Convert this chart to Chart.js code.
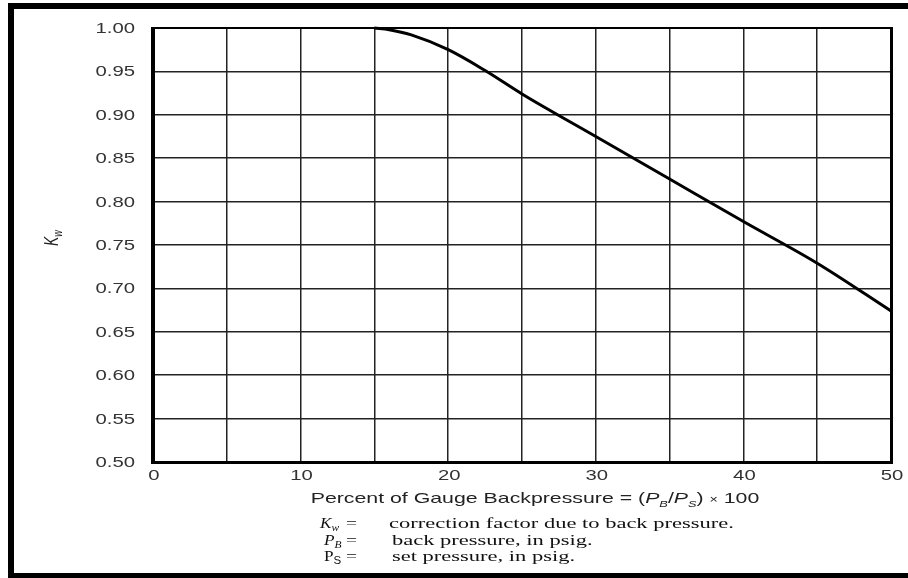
<!DOCTYPE html>
<html>
<head>
<meta charset="utf-8">
<script src="https://cdn.jsdelivr.net/npm/chart.js@4"></script>
<style>
  body { margin: 0; background: #fff; }
</style>
</head>
<body>
<canvas id="kwChart" width="908" height="578"></canvas>
<script>
// curve
const backpressure = [15, 16, 17.5, 20, 22.5, 25, 30, 35, 40, 45, 50];
const kw = [1.0, 0.998, 0.992, 0.975, 0.951, 0.924, 0.875, 0.826, 0.777, 0.729, 0.674];

const xMin = 0, xMax = 50, xStep = 5, xLabelEvery = 10;
const yMin = 0.5, yMax = 1.0, yStep = 0.05;

const sans = 'Liberation Sans, Arial, sans-serif';
const serif = 'Liberation Serif, Times New Roman, serif';
const stretch = 1.45; // the scan is wide, text is stretched sideways

function richWidth(ctx, parts) {
  let w = 0;
  parts.forEach(p => { ctx.font = p[1]; w += ctx.measureText(p[0]).width; });
  return w;
}
function drawRich(ctx, x, y, parts) {
  let cx = x;
  parts.forEach(p => {
    ctx.font = p[1];
    ctx.fillText(p[0], cx, y + (p[2] || 0));
    cx += ctx.measureText(p[0]).width;
  });
}
// draw text stretched in x, x0 = left edge on screen
function wideText(ctx, x0, y, parts, sx) {
  ctx.save();
  ctx.translate(x0, y);
  ctx.scale(sx, 1);
  drawRich(ctx, 0, 0, parts);
  ctx.restore();
}

const extras = {
  id: 'extras',
  afterDatasetsDraw(chart) {
    const ctx = chart.ctx;
    const a = chart.chartArea;
    ctx.save();
    ctx.fillStyle = '#000';
    // plot frame
    ctx.fillRect(a.left - 2, a.top - 1, 4, a.bottom - a.top + 2);
    ctx.fillRect(a.left - 2, a.top - 1, a.right - a.left + 3, 2);
    ctx.fillRect(a.right - 1, a.top - 1, 3, a.bottom - a.top + 2);
    ctx.fillRect(a.left - 2, a.bottom - 1, a.right - a.left + 4, 3);
    ctx.restore();
  },
  afterDraw(chart) {
    const ctx = chart.ctx;
    const xs = chart.scales.x, ys = chart.scales.y;
    ctx.save();
    // outer frame
    ctx.fillStyle = '#000';
    ctx.fillRect(8, 3, 900, 6);
    ctx.fillRect(8, 3, 6, 575);
    ctx.fillRect(8, 573, 900, 5);

    ctx.textBaseline = 'alphabetic';
    ctx.fillStyle = '#333';
    const tickFont = '14px ' + sans;

    // tick labels from the scales
    ys.ticks.forEach(t => {
      const s = Number(t.value).toFixed(2);
      ctx.font = tickFont;
      const w = ctx.measureText(s).width * stretch;
      wideText(ctx, 135 - w, ys.getPixelForValue(t.value) + 5, [[s, tickFont]], stretch);
    });
    xs.ticks.forEach(t => {
      const v = Math.round(t.value);
      if (v % xLabelEvery !== 0) return;
      const s = String(v);
      ctx.font = tickFont;
      const w = ctx.measureText(s).width * stretch;
      wideText(ctx, xs.getPixelForValue(t.value) - w / 2 + 1, 480, [[s, tickFont]], stretch);
    });

    // x axis title
    ctx.fillStyle = '#222';
    const title = [
      ['Percent of Gauge Backpressure = (', '15px ' + sans],
      ['P', 'italic 15px ' + sans],
      ['B', 'italic 9px ' + sans, 4],
      ['/', '15px ' + sans],
      ['P', 'italic 15px ' + sans],
      ['S', 'italic 9px ' + sans, 4],
      [') ', '15px ' + sans],
      ['\u00d7', '10px ' + sans],
      [' 100', '15px ' + sans]
    ];
    const ts = 1.42;
    const tw = richWidth(ctx, title) * ts;
    wideText(ctx, 535 - tw / 2, 503, title, ts);

    // y axis title, rotated (sideways stretch becomes vertical in the rotated frame)
    ctx.save();
    ctx.translate(58, 246);
    ctx.rotate(-Math.PI / 2);
    ctx.scale(1, stretch);
    drawRich(ctx, 0, 0, [
      ['K', 'italic 14px ' + sans],
      ['w', 'italic 9px ' + sans, 3]
    ]);
    ctx.restore();

    // footnotes
    ctx.fillStyle = '#111';
    const ss = 1.15, fs = 1.5;
    wideText(ctx, 320, 528, [
      ['K', 'italic 15px ' + serif],
      ['w', 'italic 10px ' + serif, 3]
    ], ss);
    wideText(ctx, 324, 545, [
      ['P', 'italic 15px ' + serif],
      ['B', 'italic 10px ' + serif, 3]
    ], ss);
    wideText(ctx, 324, 561, [
      ['P', '15px ' + serif],
      ['S', '10px ' + sans, 3]
    ], ss);
    [528, 545, 561].forEach(y => wideText(ctx, 346, y, [['=', '15px ' + serif]], 1.3));
    wideText(ctx, 389, 528, [['correction factor due to back pressure.', '15px ' + serif]], fs);
    wideText(ctx, 392, 545, [['back pressure, in psig.', '15px ' + serif]], fs);
    wideText(ctx, 392, 561, [['set pressure, in psig.', '15px ' + serif]], fs);
    ctx.restore();
  }
};

new Chart(document.getElementById('kwChart'), {
  type: 'line',
  data: {
    datasets: [{
      data: backpressure.map((x, i) => ({ x: x, y: kw[i] })),
      borderColor: '#000',
      borderWidth: 3,
      pointRadius: 0,
      cubicInterpolationMode: 'monotone',
      clip: false
    }]
  },
  options: {
    responsive: false,
    animation: false,
    layout: { padding: { left: 0, top: 28, right: 17, bottom: 0 } },
    plugins: { legend: { display: false }, tooltip: { enabled: false } },
    scales: {
      x: {
        type: 'linear',
        min: xMin, max: xMax,
        afterFit(scale) { scale.height = 116; },
        grid: { color: '#222', lineWidth: 1.5, drawTicks: false },
        border: { display: false },
        ticks: { stepSize: xStep, display: false, autoSkip: false }
      },
      y: {
        min: yMin, max: yMax,
        afterFit(scale) { scale.width = 153; },
        grid: { color: '#222', lineWidth: 1.5, drawTicks: false },
        border: { display: false },
        ticks: { stepSize: yStep, display: false }
      }
    }
  },
  plugins: [extras]
});
</script>
</body>
</html>
